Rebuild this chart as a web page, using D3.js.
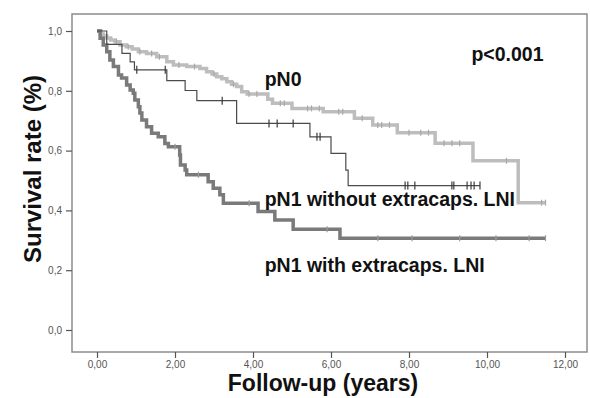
<!DOCTYPE html>
<html>
<head>
<meta charset="utf-8">
<script src="https://cdn.jsdelivr.net/npm/d3@7"></script>
<style>
  body { margin: 0; background: #fff; }
  svg { display: block; font-family: Arial, "Liberation Sans", sans-serif; }
</style>
</head>
<body>
<div id="chart"></div>
<script>
// Kaplan-Meier curves, values
const xTicks = [0, 2, 4, 6, 8, 10, 12];
const yTicks = [0, 0.2, 0.4, 0.6, 0.8, 1.0];

const pN0Times = [0, 0.1, 0.16, 0.25, 0.35, 0.46, 0.59, 0.75, 0.9, 1.06, 1.27, 1.53, 1.79, 1.96, 2.3, 2.64, 2.81, 2.95, 3.07, 3.2, 3.33, 3.45, 3.58, 3.71, 3.85, 4.38, 4.5, 5.0, 5.8, 6.6, 7.07, 7.7, 8.67, 9.64, 10.8];
const pN0Surv = [1.0, 0.99, 0.983, 0.977, 0.97, 0.964, 0.953, 0.947, 0.94, 0.931, 0.925, 0.914, 0.897, 0.886, 0.881, 0.875, 0.864, 0.856, 0.847, 0.84, 0.83, 0.822, 0.814, 0.797, 0.789, 0.772, 0.758, 0.741, 0.73, 0.708, 0.686, 0.66, 0.625, 0.566, 0.426];
const pN0End = 11.5;
const pN0Censor = [0.5, 0.8, 1.1, 1.4, 1.6, 2.1, 2.5, 3.0, 3.5, 3.9, 4.1, 4.7, 4.8, 5.4, 5.5, 5.7, 6.2, 6.3, 6.8, 7.2, 7.3, 7.5, 8.0, 8.3, 8.5, 8.9, 9.1, 9.3, 10.5, 11.4, 11.5];

const woTimes = [0, 0.25, 0.64, 0.85, 0.96, 1.79, 2.26, 2.56, 3.58, 5.46, 6.0, 6.38, 6.44];
const woSurv = [1.0, 0.955, 0.925, 0.897, 0.87, 0.834, 0.801, 0.767, 0.691, 0.646, 0.591, 0.535, 0.483];
const woEnd = 9.82;
const woCensor = [1.02, 1.75, 3.21, 4.41, 4.62, 5.03, 5.64, 5.72, 7.9, 7.97, 8.15, 9.1, 9.15, 9.49, 9.59, 9.67, 9.82];

const wTimes = [0, 0.08, 0.16, 0.25, 0.33, 0.42, 0.55, 0.63, 0.76, 0.85, 0.93, 0.97, 1.06, 1.10, 1.15, 1.27, 1.40, 1.57, 1.74, 1.83, 2.12, 2.14, 2.26, 2.30, 2.85, 2.98, 3.15, 3.24, 4.13, 4.56, 5.03, 6.23];
const wSurv = [1.0, 0.976, 0.953, 0.931, 0.903, 0.881, 0.853, 0.843, 0.819, 0.803, 0.792, 0.769, 0.747, 0.726, 0.702, 0.68, 0.658, 0.646, 0.624, 0.613, 0.585, 0.552, 0.535, 0.519, 0.496, 0.474, 0.452, 0.424, 0.396, 0.368, 0.337, 0.307];
const wEnd = 11.5;
const wCensor = [2.0, 2.6, 3.9, 5.9, 7.2, 8.08, 9.3, 10.23, 11.08, 11.5];

const width = 590, height = 398;
const frame = { left: 72, top: 14, right: 587, bottom: 352 };

const svg = d3.select('#chart')
  .append('svg')
  .attr('width', width)
  .attr('height', height);

const x = d3.scaleLinear().domain([0, 12]).range([97, 565]);
const y = d3.scaleLinear().domain([0, 1]).range([330, 31]);

// plot frame
svg.append('rect')
  .attr('x', frame.left)
  .attr('y', frame.top)
  .attr('width', frame.right - frame.left)
  .attr('height', frame.bottom - frame.top)
  .attr('fill', 'none')
  .attr('stroke', '#8c8c8c')
  .attr('stroke-width', 1.5);

// axes
const xAxis = svg.append('g')
  .attr('transform', 'translate(0,' + frame.bottom + ')')
  .call(d3.axisBottom(x).tickValues(xTicks).tickSize(6).tickPadding(3)
    .tickFormat(d => d3.format('.2f')(d).replace('.', ',')));
const yAxis = svg.append('g')
  .attr('transform', 'translate(' + frame.left + ',0)')
  .call(d3.axisLeft(y).tickValues(yTicks).tickSize(6).tickPadding(4)
    .tickFormat(d => d3.format('.1f')(d).replace('.', ',')));

[xAxis, yAxis].forEach(g => {
  g.select('.domain').remove();
  g.selectAll('line').attr('stroke', '#555').attr('stroke-width', 1.2);
  g.selectAll('text').attr('fill', '#555').attr('font-size', '10px')
    .attr('font-family', 'Arial, "Liberation Sans", sans-serif');
});

function stepPoints(times, surv, end) {
  const pts = times.map((t, i) => [t, surv[i]]);
  pts.push([end, surv[surv.length - 1]]);
  return pts;
}
function survAt(times, surv, t) {
  let s = surv[0];
  times.forEach((tt, i) => { if (tt <= t) s = surv[i]; });
  return s;
}

const line = d3.line()
  .x(d => x(d[0]))
  .y(d => y(d[1]))
  .curve(d3.curveStepAfter);

const series = [
  { times: pN0Times, surv: pN0Surv, end: pN0End, censor: pN0Censor, color: '#bdbdbd', w: 3.5, mark: '#a8a8a8', mh: 3 },
  { times: wTimes, surv: wSurv, end: wEnd, censor: wCensor, color: '#7a7a7a', w: 3.5, mark: '#9a9a9a', mh: 3 },
  { times: woTimes, surv: woSurv, end: woEnd, censor: woCensor, color: '#4a4a4a', w: 1.2, mark: '#3a3a3a', mh: 4 }
];

series.forEach(s => {
  svg.append('path')
    .datum(stepPoints(s.times, s.surv, s.end))
    .attr('d', line)
    .attr('fill', 'none')
    .attr('stroke', s.color)
    .attr('stroke-width', s.w);

  svg.selectAll(null)
    .data(s.censor)
    .enter().append('line')
    .attr('x1', d => x(d))
    .attr('x2', d => x(d))
    .attr('y1', d => y(survAt(s.times, s.surv, d)) - s.mh)
    .attr('y2', d => y(survAt(s.times, s.surv, d)) + s.mh)
    .attr('stroke', s.mark)
    .attr('stroke-width', 1.2);
});

// labels
const labels = [
  { text: 'p<0.001', t: 9.6, s: 0.9 },
  { text: 'pN0', t: 4.3, s: 0.815 },
  { text: 'pN1 without extracaps. LNI', t: 4.3, s: 0.415 },
  { text: 'pN1 with extracaps. LNI', t: 4.3, s: 0.195 }
];
svg.selectAll('text.lbl')
  .data(labels)
  .enter().append('text')
  .attr('class', 'lbl')
  .attr('x', d => x(d.t))
  .attr('y', d => y(d.s))
  .attr('font-size', '19.5px')
  .attr('font-weight', 'bold')
  .attr('fill', '#111')
  .text(d => d.text);

// axis titles
svg.append('text')
  .attr('x', 323)
  .attr('y', 391)
  .attr('text-anchor', 'middle')
  .attr('font-size', '23px')
  .attr('font-weight', 'bold')
  .attr('fill', '#111')
  .text('Follow-up (years)');

svg.append('text')
  .attr('transform', 'translate(41,169) rotate(-90)')
  .attr('text-anchor', 'middle')
  .attr('font-size', '24px')
  .attr('font-weight', 'bold')
  .attr('fill', '#111')
  .text('Survival rate (%)');
</script>
</body>
</html>
